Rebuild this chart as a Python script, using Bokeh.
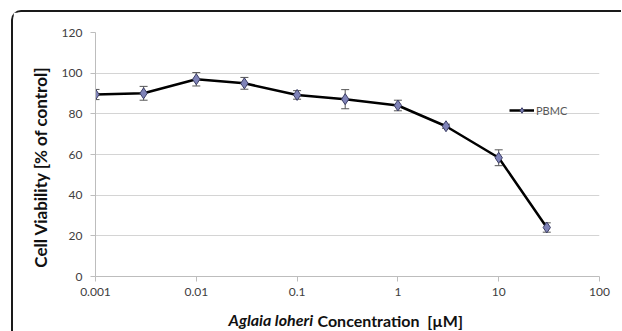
from bokeh.plotting import figure
from bokeh.models import (ColumnDataSource, Whisker, TeeHead, FixedTicker, Label,
                          Legend, LegendItem)
from bokeh.embed import file_html
from bokeh.resources import INLINE

# ---- data ----
conc = [0.001, 0.003, 0.01, 0.03, 0.1, 0.3, 1, 3, 10, 30]
viability = [89.5, 90.1, 97.0, 95.0, 89.3, 87.2, 84.1, 73.9, 58.4, 24.1]
err = [2.5, 3.4, 3.3, 2.9, 2.1, 4.7, 2.6, 1.0, 3.9, 2.3]
x_ticks = [0.001, 0.01, 0.1, 1, 10, 100]
x_tick_labels = ["0.001", "0.01", "0.1", "1", "10", "100"]
y_ticks = [0, 20, 40, 60, 80, 100, 120]
series_name = "PBMC"
y_title = "Cell Viability [% of control]"
x_title_italic = "Aglaia loheri"
x_title_rest = "Concentration\u00a0\u00a0[µM]"

upper = [v + e for v, e in zip(viability, err)]
lower = [v - e for v, e in zip(viability, err)]
src = ColumnDataSource(dict(x=conc, y=viability, upper=upper, lower=lower))

FONT = "Lato"

p = figure(x_axis_type="log", x_range=(0.001, 100), y_range=(0, 120),
           frame_width=504, frame_height=244,
           min_border_left=82, min_border_top=20, min_border_right=22, min_border_bottom=53,
           output_backend="svg", toolbar_location=None)
p.styles = {"border-left": "2px solid #1a1a1a", "border-top": "2px solid #1a1a1a",
            "border-top-left-radius": "10px", "margin-left": "11px", "margin-top": "10px"}
p.outline_line_color = None
p.background_fill_color = "white"
p.border_fill_color = "white"

# grid
p.xgrid.grid_line_color = None
p.ygrid.grid_line_color = "#d4d4d4"
p.ygrid.grid_line_width = 1

# axes
p.xaxis.ticker = FixedTicker(ticks=x_ticks, minor_ticks=[])
p.xaxis.major_label_overrides = {t: l for t, l in zip(x_ticks, x_tick_labels)}
p.yaxis.ticker = FixedTicker(ticks=y_ticks, minor_ticks=[])
for ax in (p.xaxis[0], p.yaxis[0]):
    ax.axis_line_color = "#bdbdbd"
    ax.major_tick_line_color = "#bdbdbd"
    ax.major_tick_out = 5
    ax.major_tick_in = 0
    ax.minor_tick_line_color = None
    ax.major_label_text_font = FONT
    ax.major_label_text_font_size = "12px"
    ax.major_label_text_color = "#404040"
p.xaxis.major_label_standoff = 6
p.yaxis.major_label_standoff = 8
# trailing no-break spaces shift the rotated title slightly downward, as in the reference
p.yaxis.axis_label = y_title + "\u00a0" * 6
p.yaxis.axis_label_text_font = FONT
p.yaxis.axis_label_text_font_style = "bold"
p.yaxis.axis_label_text_font_size = "17px"
p.yaxis.axis_label_text_color = "#111111"
p.yaxis.axis_label_standoff = 8

# error bars
wh = Whisker(source=src, base="x", upper="upper", lower="lower",
             line_color="#555555", line_width=1,
             upper_head=TeeHead(size=8, line_color="#555555", line_width=1),
             lower_head=TeeHead(size=8, line_color="#555555", line_width=1))
p.add_layout(wh)

# series
ln = p.line("x", "y", source=src, line_color="black", line_width=2.5)
mk = p.scatter("x", "y", source=src, marker="diamond", size=11,
               fill_color="#7f83b8", line_color="#3d3f66", line_width=1)

legend = Legend(items=[LegendItem(label=series_name, renderers=[ln, mk])],
                location=(414, 159), background_fill_alpha=0, border_line_color=None,
                padding=0, margin=0, spacing=0, label_standoff=2,
                glyph_width=25, glyph_height=14, label_height=14,
                label_text_font=FONT, label_text_font_size="11px",
                label_text_color="#595959")
p.add_layout(legend)

# x axis title with mixed styles (each label sits in its own stacked panel below)
p.add_layout(Label(x=133, y=-2, x_units="screen", y_units="screen",
                   text=x_title_italic, text_font=FONT, text_font_style="bold italic",
                   text_font_size="16px", text_baseline="middle", text_color="#111111"),
             "below")
p.add_layout(Label(x=222, y=16, x_units="screen", y_units="screen",
                   text=x_title_rest, text_font=FONT, text_font_style="bold",
                   text_font_size="16px", text_baseline="middle", text_color="#111111"),
             "below")

open("out.html", "w").write(file_html(p, INLINE))
